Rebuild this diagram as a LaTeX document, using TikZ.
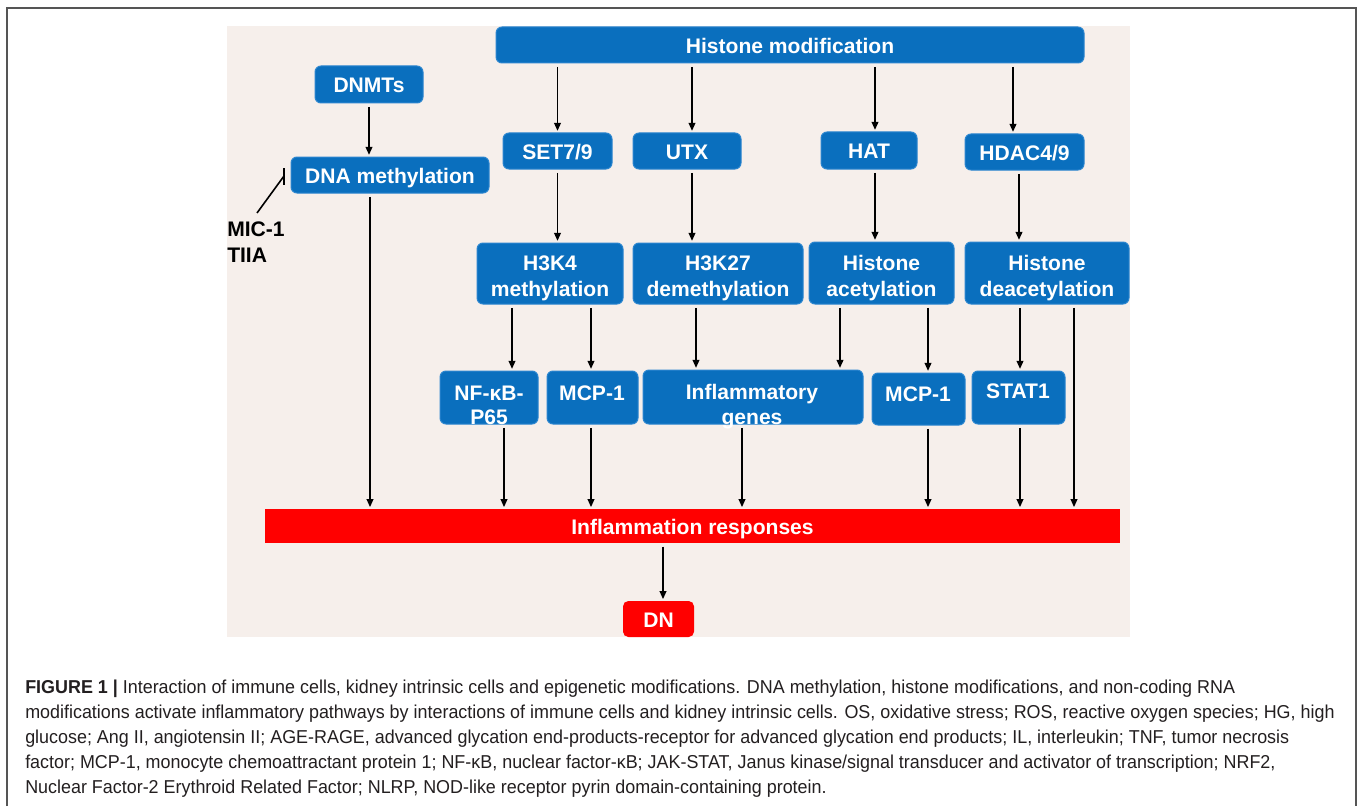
\documentclass[tikz,border=0pt]{standalone}
\usepackage{fontspec}
\setmainfont{Liberation Sans}
\newfontfamily\capfont[FakeStretch=0.96]{Liberation Sans}
\usetikzlibrary{arrows.meta}
\definecolor{panel}{HTML}{F6EFEB}
\definecolor{boxblue}{HTML}{0A6FBE}
\definecolor{boxedge}{HTML}{2C86CF}
\definecolor{capgray}{HTML}{231F20}
\definecolor{framegray}{HTML}{555555}
\begin{document}
\begin{tikzpicture}[x=0.75pt,y=-0.75pt,
  bfont/.style={font=\fontsize{15.8}{19.5}\selectfont\bfseries},
  bbox/.style={draw=boxedge, line width=0.75pt, fill=boxblue, rounded corners=4.5pt,
     inner sep=0pt, text=white, bfont, align=center},
  one/.style={text height=12.6pt, text depth=0pt},
  rbox/.style={fill=red, inner sep=0pt, text=white, bfont, align=center},
  btxt/.style={text=white, bfont, align=center, inner sep=0pt},
  arr/.style={line width=1.2pt, -{Triangle[length=6pt,width=5pt]}, shorten <=2.5pt, shorten >=1.2pt},
  captxt/.style={font=\capfont\fontsize{14}{18.75}\selectfont, text=capgray, inner sep=0pt, anchor=base west}
]
\useasboundingbox (0,0) rectangle (1358,806);
\fill[white] (0,0) rectangle (1358,806);
% frame
\draw[framegray, line width=1.3pt] (7,806) -- (7,8) -- (1356,8) -- (1356,806);
% panel
\fill[panel] (227,26) rectangle (1130,637);

% top row
\node[bbox, one, minimum width=588*0.75pt, minimum height=36*0.75pt] (hm) at (790,45) {Histone modification};
\node[bbox, one, minimum width=108*0.75pt, minimum height=37*0.75pt] (dnmt) at (369,84.5) {DNMTs};
\node[bbox, one, minimum width=198*0.75pt, minimum height=36*0.75pt] (dnam) at (390,175) {DNA methylation};
\node[bbox, one, minimum width=109*0.75pt, minimum height=36*0.75pt] (set) at (557.5,151) {SET7/9};
\node[bbox, one, minimum width=108*0.75pt, minimum height=36*0.75pt] (utx) at (687,151) {UTX};
\node[bbox, one, minimum width=96*0.75pt, minimum height=37*0.75pt] (hat) at (869,150.5) {HAT};
\node[bbox, one, minimum width=119*0.75pt, minimum height=36*0.75pt] (hdac) at (1024.5,152) {HDAC4/9};

% second row
\node[bbox, minimum width=146*0.75pt, minimum height=61*0.75pt] (h3k4) at (550,273.5) {};
\node[btxt] (h3k4t) at (550,278.5) {H3K4\\methylation};
\node[bbox, minimum width=170*0.75pt, minimum height=61*0.75pt] (h3k27) at (718,273.5) {};
\node[btxt] (h3k27t) at (718,278.5) {H3K27\\demethylation};
\node[bbox, minimum width=145*0.75pt, minimum height=62*0.75pt] (hac) at (881.5,273) {};
\node[btxt] (hact) at (881.5,278) {Histone\\acetylation};
\node[bbox, minimum width=164*0.75pt, minimum height=62*0.75pt] (hdc) at (1047,273) {};
\node[btxt] (hdct) at (1047,278) {Histone\\deacetylation};

% third row
\node[bbox, minimum width=98*0.75pt, minimum height=53*0.75pt] (nfkb) at (489,397.5) {};
\node[btxt, font=\fontsize{15.8}{18}\selectfont\bfseries] (nfkbt) at (489,405) {NF-κB-\\P65};
\node[bbox, minimum width=91*0.75pt, minimum height=53*0.75pt] (mcpa) at (592.5,397.5) {};
\node[btxt] (mcpat) at (592,393) {MCP-1};
\node[bbox, minimum width=220*0.75pt, minimum height=54*0.75pt] (infg) at (753,397) {};
\node[btxt, font=\fontsize{15.8}{18.75}\selectfont\bfseries] (infgt) at (752,406.5) {Inflammatory\\genes};
\node[bbox, minimum width=93*0.75pt, minimum height=52*0.75pt] (mcpb) at (918.5,399) {};
\node[btxt] (mcpbt) at (918,394) {MCP-1};
\node[bbox, minimum width=93*0.75pt, minimum height=53*0.75pt] (stat) at (1018.5,397.5) {};
\node[btxt] (statt) at (1018,391) {STAT1};

% red
\node[rbox, one, minimum width=855*0.75pt, minimum height=34*0.75pt] (infr) at (692.5,526) {Inflammation responses};
\node[rbox, one, rounded corners=4pt, minimum width=71*0.75pt, minimum height=36*0.75pt] (dn) at (658.5,619) {DN};

% inhibitor label
\node[inner sep=0pt, align=left, anchor=north west, text=black,
      font=\fontsize{15.8}{19.5}\selectfont\bfseries] (mic) at (227,222) {MIC-1\\TIIA};
\coordinate (inhS) at (257,213);
\coordinate (inhE) at (284,176);
\draw[line width=1.2pt] (inhS) -- (inhE);
\draw[line width=1.2pt] (284,168) -- (284,185);

% arrows
\draw[arr] (dnmt.south) -- (dnmt.south |- dnam.north);
\draw[arr] (hm.south -| set.north) -- (set.north);
\draw[arr] (hm.south -| 692,0) -- (utx.north -| 692,0);
\draw[arr] (hm.south -| 875,0) -- (hat.north -| 875,0);
\draw[arr] (hm.south -| 1013,0) -- (hdac.north -| 1013,0);
\draw[arr] (set.south) -- (set.south |- h3k4.north);
\draw[arr] (utx.south -| 692,0) -- (h3k27.north -| 692,0);
\draw[arr] (hat.south -| 875,0) -- (hac.north -| 875,0);
\draw[arr] (hdac.south -| 1019,0) -- (hdc.north -| 1019,0);
\draw[arr] (h3k4.south -| 512,0) -- (nfkb.north -| 512,0);
\draw[arr] (h3k4.south -| 591,0) -- (mcpa.north -| 591,0);
\draw[arr] (h3k27.south -| 696,0) -- (infg.north -| 696,0);
\draw[arr] (hac.south -| 840,0) -- (infg.north -| 840,0);
\draw[arr] (hac.south -| 928,0) -- (mcpb.north -| 928,0);
\draw[arr] (hdc.south -| 1020,0) -- (stat.north -| 1020,0);
\draw[arr] (hdc.south -| 1074,0) -- (infr.north -| 1074,0);
\draw[arr] (dnam.south -| 370,0) -- (infr.north -| 370,0);
\draw[arr] (nfkb.south -| 504,0) -- (infr.north -| 504,0);
\draw[arr] (mcpa.south -| 591,0) -- (infr.north -| 591,0);
\draw[arr] (infg.south -| 742,0) -- (infr.north -| 742,0);
\draw[arr] (mcpb.south -| 928,0) -- (infr.north -| 928,0);
\draw[arr] (stat.south -| 1020,0) -- (infr.north -| 1020,0);
\draw[arr] (infr.south -| 663,0) -- (dn.north -| 663,0);

% caption
\node[captxt] (cap1) at (25,693) {\textbf{FIGURE 1 |} Interaction of immune cells, kidney intrinsic cells and epigenetic modifications. DNA methylation, histone modifications, and non-coding RNA};
\node[captxt] (cap2) at (25,718) {modifications activate inflammatory pathways by interactions of immune cells and kidney intrinsic cells. OS, oxidative stress; ROS, reactive oxygen species; HG, high};
\node[captxt] (cap3) at (25,743) {glucose; Ang II, angiotensin II; AGE-RAGE, advanced glycation end-products-receptor for advanced glycation end products; IL, interleukin; TNF, tumor necrosis};
\node[captxt] (cap4) at (25,768) {factor; MCP-1, monocyte chemoattractant protein 1; NF-κB, nuclear factor-κB; JAK-STAT, Janus kinase/signal transducer and activator of transcription; NRF2,};
\node[captxt] (cap5) at (25,793) {Nuclear Factor-2 Erythroid Related Factor; NLRP, NOD-like receptor pyrin domain-containing protein.};
\end{tikzpicture}
\end{document}
